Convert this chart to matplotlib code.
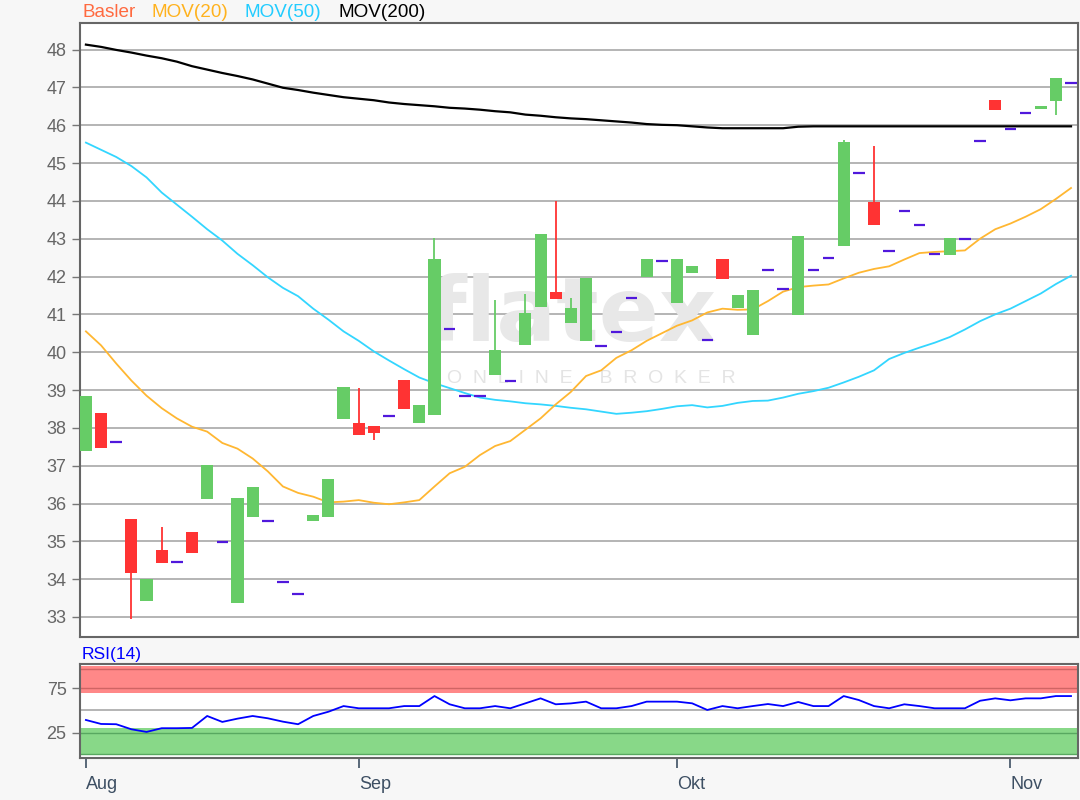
#!/usr/bin/env python3
# -*- coding: utf-8 -*-
"""
Basler Kerzenchart mit gleitenden Durchschnitten und RSI(14)
"""

import matplotlib
matplotlib.use('Agg')
import matplotlib.pyplot as plt
import numpy as np

plt.rcParams['font.family'] = ['Liberation Sans', 'DejaVu Sans']

# Kursdaten (ein Eintrag pro Handelstag, Aug - Anfang Nov)
opens = [37.38, 38.38, 37.62, 35.58, 33.43, 34.78, 34.45, 35.25, 36.12, 34.97,
         33.38, 35.65, 35.55, 33.93, 33.60, 35.55, 35.65, 38.23, 38.12, 38.05,
         38.31, 39.27, 38.12, 38.34, 40.62, 38.85, 38.84, 39.39, 39.25, 40.18,
         41.20, 41.59, 40.77, 40.30, 40.16, 40.53, 41.42, 41.99, 42.42, 41.30,
         42.08, 40.32, 42.45, 41.18, 40.45, 42.16, 41.68, 40.98, 42.16, 42.48,
         42.82, 44.74, 43.97, 42.68, 43.74, 43.37, 42.59, 42.56, 43.00, 45.59,
         46.67, 45.91, 46.33, 46.42, 46.63, 47.12]
closes = [38.85, 37.48, 37.62, 34.17, 34.00, 34.44, 34.45, 34.69, 37.02, 34.97,
          36.15, 36.43, 35.55, 33.93, 33.60, 35.69, 36.64, 39.07, 37.81, 37.87,
          38.31, 38.49, 38.60, 42.45, 40.62, 38.85, 38.84, 40.05, 39.25, 41.03,
          43.13, 41.40, 41.17, 41.97, 40.16, 40.53, 41.42, 42.45, 42.42, 42.45,
          42.29, 40.32, 41.93, 41.50, 41.65, 42.16, 41.68, 43.07, 42.16, 42.48,
          45.55, 44.74, 43.35, 42.68, 43.74, 43.37, 42.59, 43.02, 43.00, 45.59,
          46.41, 45.91, 46.33, 46.50, 47.25, 47.12]
highs = [38.85, 38.38, 37.62, 35.58, 34.00, 35.37, 34.45, 35.25, 37.02, 34.97,
         36.15, 36.43, 35.55, 33.93, 33.60, 35.69, 36.64, 39.07, 39.06, 38.05,
         38.31, 39.27, 38.60, 43.03, 40.62, 38.85, 38.84, 41.39, 39.25, 41.55,
         43.13, 44.00, 41.44, 41.97, 40.16, 40.53, 41.42, 42.45, 42.42, 42.45,
         42.29, 40.32, 42.45, 41.50, 41.65, 42.16, 41.68, 43.07, 42.16, 42.48,
         45.62, 44.74, 45.45, 42.68, 43.74, 43.37, 42.59, 43.02, 43.00, 45.59,
         46.67, 45.91, 46.33, 46.50, 47.25, 47.12]
lows = [37.38, 37.48, 37.62, 32.95, 33.43, 34.44, 34.45, 34.69, 36.12, 34.97,
        33.38, 35.65, 35.55, 33.93, 33.60, 35.55, 35.65, 38.23, 37.81, 37.69,
        38.31, 38.49, 38.12, 38.34, 40.62, 38.85, 38.84, 39.39, 39.25, 40.18,
        41.20, 41.40, 40.77, 40.30, 40.16, 40.53, 41.42, 41.99, 42.42, 41.30,
        42.08, 40.32, 41.93, 41.18, 40.45, 42.16, 41.68, 40.98, 42.16, 42.48,
        42.82, 44.74, 43.35, 42.68, 43.74, 43.37, 42.59, 42.56, 43.00, 45.59,
        46.41, 45.91, 46.33, 46.42, 46.26, 47.12]

# Gleitende Durchschnitte
mov20 = [40.55, 40.18, 39.70, 39.25, 38.85, 38.52, 38.25, 38.03, 37.90, 37.60,
         37.45, 37.19, 36.85, 36.45, 36.28, 36.18, 36.03, 36.05, 36.09, 36.02,
         35.98, 36.03, 36.09, 36.45, 36.80, 36.97, 37.28, 37.52, 37.65, 37.95,
         38.25, 38.62, 38.95, 39.37, 39.52, 39.85, 40.05, 40.30, 40.50, 40.70,
         40.84, 41.05, 41.15, 41.12, 41.13, 41.35, 41.60, 41.72, 41.76, 41.79,
         41.95, 42.10, 42.20, 42.27, 42.45, 42.62, 42.65, 42.67, 42.69, 43.00,
         43.25, 43.40, 43.58, 43.78, 44.05, 44.34]
mov50 = [45.54, 45.35, 45.16, 44.92, 44.62, 44.22, 43.90, 43.58, 43.25, 42.95,
         42.60, 42.30, 41.98, 41.70, 41.48, 41.15, 40.86, 40.55, 40.30, 40.02,
         39.78, 39.55, 39.33, 39.18, 39.05, 38.92, 38.80, 38.74, 38.70, 38.65,
         38.62, 38.58, 38.53, 38.49, 38.43, 38.37, 38.40, 38.44, 38.50, 38.57,
         38.60, 38.54, 38.58, 38.66, 38.71, 38.72, 38.80, 38.90, 38.97, 39.06,
         39.20, 39.35, 39.52, 39.82, 39.98, 40.12, 40.25, 40.40, 40.60, 40.82,
         41.00, 41.15, 41.35, 41.55, 41.80, 42.02]
mov200 = [48.13, 48.07, 47.99, 47.92, 47.84, 47.77, 47.68, 47.56, 47.47, 47.38,
          47.30, 47.21, 47.10, 46.99, 46.93, 46.86, 46.80, 46.74, 46.70, 46.66,
          46.60, 46.56, 46.53, 46.50, 46.46, 46.44, 46.41, 46.37, 46.34, 46.28,
          46.25, 46.21, 46.18, 46.16, 46.13, 46.10, 46.07, 46.03, 46.01, 46.00,
          45.97, 45.94, 45.92, 45.92, 45.92, 45.92, 45.92, 45.96, 45.97, 45.97,
          45.97, 45.97, 45.97, 45.97, 45.97, 45.97, 45.97, 45.97, 45.97, 45.97,
          45.97, 45.97, 45.97, 45.97, 45.97, 45.97]

# RSI(14)
rsi = [39.3, 34.8, 34.5, 28.8, 25.8, 30.0, 30.0, 30.3, 43.8, 37.1,
       40.8, 43.8, 41.2, 37.4, 34.5, 43.8, 48.6, 55.0, 52.5, 52.5,
       52.5, 55.0, 55.0, 66.3, 57.0, 52.5, 52.5, 55.0, 52.5, 58.1,
       63.7, 57.0, 58.0, 60.0, 52.5, 52.5, 55.0, 60.0, 60.0, 60.0,
       58.1, 50.6, 55.0, 52.5, 55.0, 57.3, 55.0, 59.6, 55.0, 55.0,
       66.3, 61.8, 55.0, 52.5, 57.0, 55.0, 52.5, 52.5, 52.5, 61.0,
       63.7, 61.5, 63.7, 63.7, 66.3, 66.3]

# Monatsbeschriftung (Index des ersten Handelstags)
month_labels = ['Aug', 'Sep', 'Okt', 'Nov']
month_pos = [0, 18, 39, 61]

price_ticks = list(range(33, 49))
rsi_ticks = [25, 75]

# Farben
GREEN = '#66cc66'
RED = '#ff3333'
FLAT = '#5018dc'
C20 = '#ffb732'
C50 = '#33d6ff'
C200 = '#000000'
BG = '#f7f7f7'

fig = plt.figure(figsize=(10.8, 8), dpi=100, facecolor=BG)
ax = fig.add_axes([0.0745, 0.2037, 0.9235, 0.767])
ax_rsi = fig.add_axes([0.0745, 0.0521, 0.9235, 0.1179], sharex=ax)

x = np.arange(len(opens))
o = np.array(opens)
c = np.array(closes)
h = np.array(highs)
l = np.array(lows)

# Rasterlinien
for t in price_ticks:
    ax.axhline(t, color='#a8a8a8', lw=1.2, zorder=1)

# Wasserzeichen
ax.text(0.493, 0.522, 'flatex', transform=ax.transAxes, fontsize=64,
        color='#e8e8e8', ha='center', va='center', family='DejaVu Sans',
        fontweight='bold', zorder=1.5)
ax.text(0.512, 0.422, 'O  N  L  I  N  E     B  R  O  K  E  R', transform=ax.transAxes,
        fontsize=14, color='#e4e4e4', ha='center', va='center', zorder=1.5)

# Gleitende Durchschnitte
ax.plot(x, mov200, color=C200, lw=1.6, zorder=2)
ax.plot(x, mov50, color=C50, lw=1.3, zorder=2)
ax.plot(x, mov20, color=C20, lw=1.3, zorder=2)

# Kerzen
flat = h == l
up = (c > o) & ~flat
down = (c < o) & ~flat
for mask, col in [(up, GREEN), (down, RED)]:
    ax.vlines(x[mask], l[mask], h[mask], color=col, lw=1.3, zorder=3)
    ax.bar(x[mask], np.abs(c - o)[mask], bottom=np.minimum(o, c)[mask],
           width=0.8, color=col, edgecolor='none', zorder=3)
ax.hlines(c[flat], x[flat] - 0.38, x[flat] + 0.38, color=FLAT, lw=1.6, zorder=3)

ax.set_ylim(32.47, 48.69)
ax.set_xlim(-0.36, 65.45)
ax.set_yticks(price_ticks)
ax.set_yticklabels([str(t) for t in price_ticks])
ax.tick_params(axis='y', length=6, width=1, color='#777777', labelcolor='#666666',
               labelsize=13, pad=4)
ax.tick_params(axis='x', bottom=False, labelbottom=False)
for s in ax.spines.values():
    s.set_color('#666666')
    s.set_linewidth(1.5)

# Titelzeile
fig.text(0.076, 0.984, 'Basler', color='#ff6a40', fontsize=13.6, va='center')
fig.text(0.1405, 0.984, 'MOV(20)', color='#ffb21e', fontsize=13.6, va='center')
fig.text(0.2268, 0.984, 'MOV(50)', color='#22ccff', fontsize=13.6, va='center')
fig.text(0.3133, 0.984, 'MOV(200)', color='#000000', fontsize=13.6, va='center')

# RSI-Bereich
ax_rsi.axhspan(70, 100, color='#ff8888', lw=0, zorder=1)
ax_rsi.axhspan(0, 30, color='#88d888', lw=0, zorder=1)
ax_rsi.axhline(96.5, color='#d06464', lw=1, zorder=1.2)
ax_rsi.axhline(75, color='#d06464', lw=1, zorder=1.2)
ax_rsi.axhline(25, color='#58a860', lw=1, zorder=1.2)
ax_rsi.axhline(0.5, color='#58a860', lw=1, zorder=1.2)
ax_rsi.axhline(50, color='#a8a8a8', lw=1.2, zorder=1.2)
ax_rsi.plot(x, rsi, color='#0000ff', lw=1.3, zorder=3)
ax_rsi.set_ylim(-4, 102.5)
ax_rsi.set_yticks(rsi_ticks)
ax_rsi.set_yticklabels([str(t) for t in rsi_ticks])
ax_rsi.tick_params(axis='y', length=6, width=1, color='#777777', labelcolor='#666666',
                   labelsize=13, pad=4)
ax_rsi.set_xticks(month_pos)
ax_rsi.set_xticklabels(month_labels, ha='left')
ax_rsi.tick_params(axis='x', length=7, width=1.2, color='#3d4f63', labelcolor='#3d4f63',
                   labelsize=13, pad=6)
for s in ax_rsi.spines.values():
    s.set_color('#666666')
    s.set_linewidth(1.5)
fig.text(0.076, 0.182, 'RSI(14)', color='#0000ff', fontsize=12.5, va='center')

plt.savefig('out.png', dpi=100, facecolor=BG)
plt.close()
